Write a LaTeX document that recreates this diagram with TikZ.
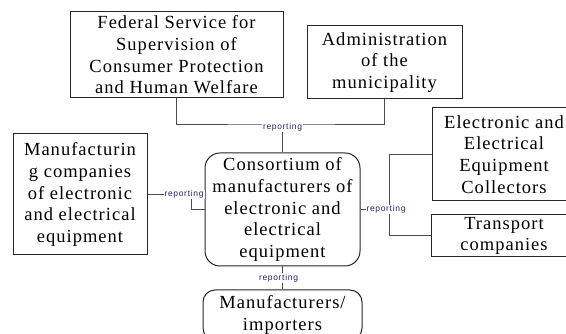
\documentclass[tikz,border=0pt]{standalone}
\usepackage{fontspec}
\setmainfont{Liberation Serif}[LetterSpace=5.5]
\newfontfamily\tagfont{Liberation Sans}[LetterSpace=8]
\usetikzlibrary{positioning}
\definecolor{tagblue}{RGB}{30,40,105}

\begin{document}
\begin{tikzpicture}[
    x=1pt, y=1pt,
    node distance=13pt,
    box/.style={
        draw=black!85,
        line width=1pt,
        inner sep=0pt,
        align=center,
        font=\fontsize{18.5}{21.7}\selectfont
    },
    roundbox/.style={
        box,
        rounded corners=15pt
    },
    link/.style={
        draw=black!70,
        line width=1pt
    },
    tag/.style={
        fill=white,
        text=tagblue,
        inner sep=1pt,
        font=\tagfont\fontsize{8.5}{9}\selectfont
    }
]
\useasboundingbox (0,0) rectangle (566,334);

\node[box, minimum width=213pt, minimum height=86pt] (fed) at (176.5,279)
{Federal Service for\\
Supervision of\\
Consumer Protection\\
and Human Welfare};

\node[box, minimum width=155pt, minimum height=73pt] (admin) at (384.5,271.5)
{Administration\\
of the\\
municipality};

\node[box, minimum width=134pt, minimum height=121pt] (manuf) at (80,139.5)
{Manufacturin\\
g companies\\
of electronic\\
and electrical\\
equipment};

\node[roundbox, minimum width=155pt, minimum height=113pt] (cons) at (282.5,124.5)
{Consortium of\\
manufacturers of\\
electronic and\\
electrical\\
equipment};

\node[box, minimum width=144pt, minimum height=93pt] (coll) at (504,179.5)
{Electronic and\\
Electrical\\
Equipment\\
Collectors};

\node[box, minimum width=146pt, minimum height=42pt, below=of coll] (trans)
{Transport\\
companies};

\node[roundbox, rounded corners=12pt, minimum width=159pt, minimum height=50pt,
      below=23pt of cons] (imp)
{Manufacturers/\\
importers};

\coordinate (topbus) at (282.5,209);
\coordinate (rightbus) at ([xshift=29pt]cons.east);

\draw[link] (fed.south) |- (topbus) -| (admin.south);
\draw[link] (cons.north) -- node[tag, pos=0.93]{reporting} (topbus);

\draw[link] (manuf.east) -- node[tag, pos=0.83]{reporting} ++(44,0) |- (cons.west);

\draw[link] (coll.west) -| (rightbus) |- (trans.west);
\draw[link] (cons.east) -- (rightbus);
\node[tag, xshift=-3.5pt] (righttag) at (rightbus) {reporting};

\draw[link] (cons.south) -- node[tag, xshift=-4pt]{reporting} (imp.north);

\end{tikzpicture}
\end{document}
